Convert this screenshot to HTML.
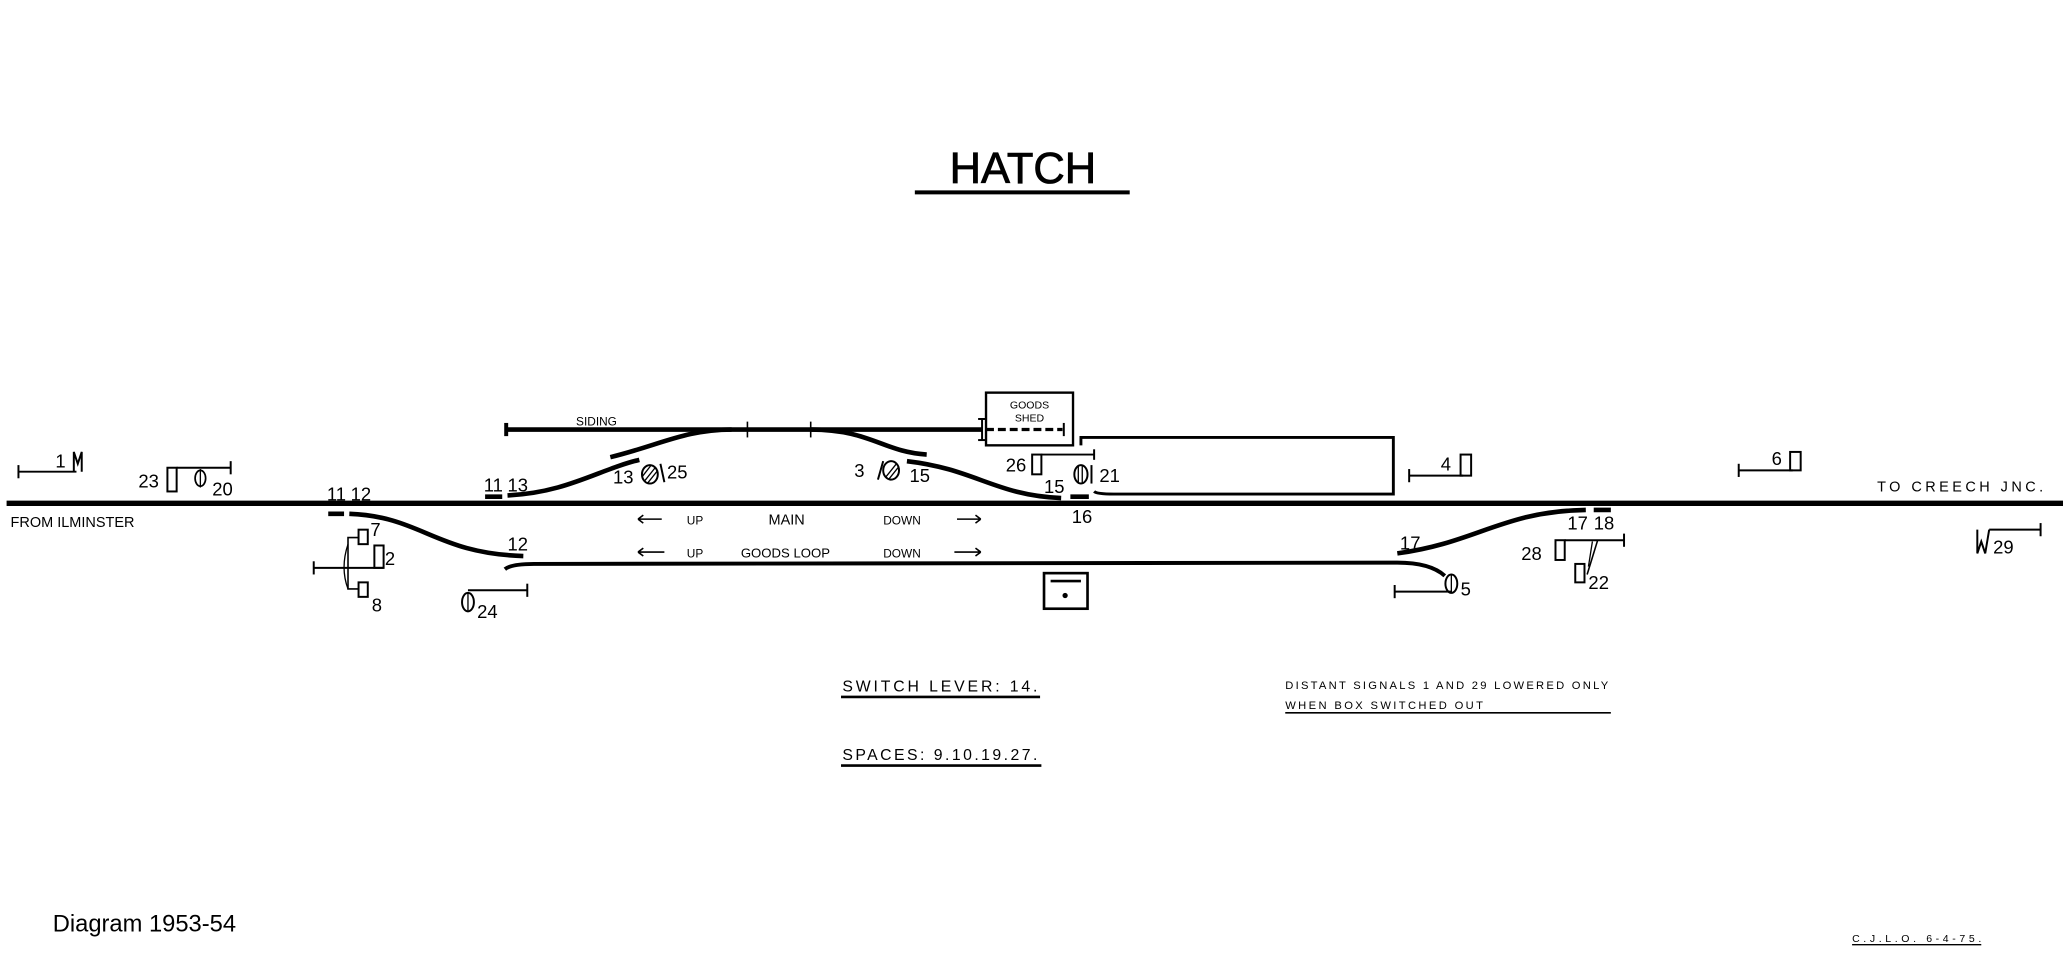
<!DOCTYPE html>
<html><head><meta charset="utf-8"><style>
html,body{margin:0;padding:0;background:#fff;}
svg{display:block;}
text{font-family:"Liberation Sans",sans-serif;fill:#000;}
</style></head><body>
<svg width="2063" height="975" viewBox="0 0 1565 740" preserveAspectRatio="none" xmlns="http://www.w3.org/2000/svg">
<rect width="1565" height="740" fill="#fff"/>
<g stroke="#000" fill="none" stroke-linecap="butt">
<line x1="694" y1="146" x2="857" y2="146" stroke-width="3"/>
<line x1="5" y1="382" x2="1565" y2="382" stroke-width="4"/>
<path d="M383,432 Q388,428 405,428 L1060,427 Q1085,427 1096,437" stroke-width="3"/>
<line x1="249" y1="390" x2="261" y2="390" stroke-width="3.5"/>
<path d="M265,390 C320,392 330,420 397,422" stroke-width="3.5"/>
<line x1="368" y1="377" x2="381" y2="377" stroke-width="3.5"/>
<path d="M385,376 C430,374 455,356 485,349" stroke-width="3.5"/>
<path d="M463,347 C500,338 520,326 555,326" stroke-width="3.5"/>
<line x1="383" y1="326" x2="745" y2="326" stroke-width="3.5"/>
<line x1="384" y1="321" x2="384" y2="331" stroke-width="3"/>
<line x1="567" y1="320" x2="567" y2="332" stroke-width="1.2"/>
<line x1="615" y1="320" x2="615" y2="332" stroke-width="1.2"/>
<path d="M615,326 C660,326 670,343 703,345" stroke-width="3.5"/>
<path d="M688,350 C740,356 755,376 805,378" stroke-width="3.5"/>
<line x1="812" y1="377" x2="826" y2="377" stroke-width="3.5"/>
<path d="M830,373 Q832,375 845,375 L1057,375 L1057,332 L820,332 L820,338" stroke-width="2.2"/>
<rect x="748" y="298" width="66" height="40" stroke-width="1.8"/>
<line x1="748" y1="326" x2="806" y2="326" stroke-width="2.5" stroke-dasharray="6,3"/>
<line x1="807" y1="321" x2="807" y2="331" stroke-width="1.5"/>
<line x1="745" y1="318" x2="745" y2="334" stroke-width="1.5"/>
<line x1="742" y1="318" x2="748" y2="318" stroke-width="1.5"/>
<line x1="742" y1="334" x2="748" y2="334" stroke-width="1.5"/>
<rect x="783" y="345" width="7" height="15" stroke-width="1.5"/>
<line x1="790" y1="345" x2="830" y2="345" stroke-width="1.5"/>
<line x1="830" y1="341" x2="830" y2="349" stroke-width="1.5"/>
<ellipse cx="820" cy="360" rx="5" ry="7" stroke-width="1.5"/>
<line x1="818" y1="354" x2="818" y2="366" stroke-width="1"/>
<line x1="821" y1="353" x2="821" y2="367" stroke-width="1"/>
<line x1="828" y1="353" x2="828" y2="367" stroke-width="1.5"/>
<line x1="1069" y1="361" x2="1110" y2="361" stroke-width="1.5"/>
<line x1="1069" y1="356" x2="1069" y2="366" stroke-width="1.5"/>
<rect x="1108" y="345" width="8" height="16" stroke-width="1.5"/>
<line x1="1319" y1="357" x2="1360" y2="357" stroke-width="1.5"/>
<line x1="1319" y1="352" x2="1319" y2="362" stroke-width="1.5"/>
<rect x="1358" y="343" width="8" height="14" stroke-width="1.5"/>
<line x1="14" y1="358" x2="58" y2="358" stroke-width="1.5"/>
<line x1="14" y1="353" x2="14" y2="363" stroke-width="1.5"/>
<path d="M56,358 L56,343 L59,352 L62,343 L62,358" stroke-width="1.5"/>
<rect x="127" y="355" width="7" height="18" stroke-width="1.5"/>
<line x1="134" y1="355" x2="175" y2="355" stroke-width="1.5"/>
<line x1="175" y1="350" x2="175" y2="360" stroke-width="1.5"/>
<ellipse cx="152" cy="363" rx="4" ry="6" stroke-width="1.3"/>
<line x1="152" y1="356" x2="152" y2="370" stroke-width="1"/>
<line x1="238" y1="431" x2="291" y2="431" stroke-width="1.5"/>
<line x1="238" y1="426" x2="238" y2="436" stroke-width="1.5"/>
<path d="M272,408 L264,408 L264,447 L272,447" stroke-width="1.2"/>
<path d="M264,413 Q258,431 264,447" stroke-width="1"/>
<rect x="272" y="402" width="7" height="11" stroke-width="1.5"/>
<rect x="284" y="414" width="7" height="17" stroke-width="1.5"/>
<rect x="272" y="442" width="7" height="11" stroke-width="1.5"/>
<ellipse cx="355" cy="457" rx="4.5" ry="7" stroke-width="1.5"/>
<line x1="355" y1="450" x2="355" y2="464" stroke-width="1"/>
<line x1="355" y1="448" x2="400" y2="448" stroke-width="1.5"/>
<line x1="400" y1="443" x2="400" y2="453" stroke-width="1.5"/>
<ellipse cx="493" cy="360" rx="6" ry="7" stroke-width="1.5"/>
<line x1="489" y1="365" x2="497" y2="355" stroke-width="1"/>
<line x1="491" y1="367" x2="499" y2="357" stroke-width="1"/>
<line x1="487" y1="362" x2="494" y2="353" stroke-width="1"/>
<line x1="501" y1="352" x2="504" y2="366" stroke-width="1.5"/>
<ellipse cx="676" cy="357" rx="6" ry="7" stroke-width="1.5"/>
<line x1="672" y1="362" x2="680" y2="352" stroke-width="1"/>
<line x1="674" y1="364" x2="682" y2="354" stroke-width="1"/>
<line x1="666" y1="364" x2="670" y2="350" stroke-width="1.5"/>
<path d="M484,394 L502,394 M484,394 l4,-3 M484,394 l4,3" stroke-width="1.2"/>
<path d="M726,394 L744,394 M744,394 l-4,-3 M744,394 l-4,3" stroke-width="1.2"/>
<path d="M484,419 L504,419 M484,419 l4,-3 M484,419 l4,3" stroke-width="1.2"/>
<path d="M724,419 L744,419 M744,419 l-4,-3 M744,419 l-4,3" stroke-width="1.2"/>
<rect x="792" y="435" width="33" height="27" stroke-width="2"/>
<line x1="797" y1="441" x2="820" y2="441" stroke-width="2"/>
<path d="M1060,420 C1120,412 1140,388 1203,387" stroke-width="3.5"/>
<line x1="1209" y1="387" x2="1222" y2="387" stroke-width="3.5"/>
<ellipse cx="1101" cy="443" rx="4.5" ry="7" stroke-width="1.5"/>
<line x1="1101" y1="436" x2="1101" y2="450" stroke-width="1"/>
<line x1="1058" y1="449" x2="1101" y2="449" stroke-width="1.5"/>
<line x1="1058" y1="444" x2="1058" y2="454" stroke-width="1.5"/>
<rect x="1180" y="410" width="7" height="15" stroke-width="1.5"/>
<line x1="1187" y1="410" x2="1232" y2="410" stroke-width="1.5"/>
<line x1="1232" y1="405" x2="1232" y2="415" stroke-width="1.5"/>
<rect x="1195" y="428" width="7" height="14" stroke-width="1.5"/>
<line x1="1212" y1="410" x2="1204" y2="436" stroke-width="1.2"/>
<line x1="1208" y1="411" x2="1205" y2="430" stroke-width="1"/>
<path d="M1500,402 L1500,420 L1503,411 L1506,420 L1509,402" stroke-width="1.5"/>
<line x1="1509" y1="402" x2="1548" y2="402" stroke-width="1.5"/>
<line x1="1548" y1="397" x2="1548" y2="407" stroke-width="1.5"/>
<line x1="638" y1="529" x2="789" y2="529" stroke-width="2"/>
<line x1="638" y1="581" x2="790" y2="581" stroke-width="2"/>
<line x1="975" y1="541" x2="1222" y2="541" stroke-width="1.2"/>
<line x1="1405" y1="717" x2="1503" y2="717" stroke-width="1"/>
</g>
<circle cx="808" cy="452" r="2" fill="#000"/>
<text x="776" y="139" font-size="33" text-anchor="middle" stroke="#000" stroke-width="0.6">HATCH</text>
<text x="437" y="323" font-size="9">SIDING</text>
<text x="781" y="310" font-size="8" text-anchor="middle">GOODS</text>
<text x="781" y="320" font-size="8" text-anchor="middle">SHED</text>
<g font-size="14">
<text x="42" y="355">1</text>
<text x="105" y="370">23</text>
<text x="161" y="376">20</text>
<text x="248" y="380">11</text>
<text x="266" y="380">12</text>
<text x="367" y="373">11</text>
<text x="385" y="373">13</text>
<text x="465" y="367">13</text>
<text x="506" y="363">25</text>
<text x="648" y="362">3</text>
<text x="690" y="366">15</text>
<text x="763" y="358">26</text>
<text x="834" y="366">21</text>
<text x="792" y="374">15</text>
<text x="813" y="397">16</text>
<text x="1093" y="357">4</text>
<text x="1344" y="353">6</text>
<text x="281" y="407">7</text>
<text x="292" y="429">2</text>
<text x="282" y="464">8</text>
<text x="385" y="418">12</text>
<text x="362" y="469">24</text>
<text x="1062" y="417">17</text>
<text x="1189" y="402">17</text>
<text x="1209" y="402">18</text>
<text x="1154" y="425">28</text>
<text x="1205" y="447">22</text>
<text x="1108" y="452">5</text>
<text x="1512" y="420">29</text>
</g>
<text x="8" y="400" font-size="11">FROM ILMINSTER</text>
<text x="1424" y="373" font-size="11" textLength="126">TO CREECH JNC.</text>
<text x="521" y="398" font-size="9">UP</text>
<text x="583" y="398" font-size="11">MAIN</text>
<text x="670" y="398" font-size="9">DOWN</text>
<text x="521" y="423" font-size="9">UP</text>
<text x="562" y="423" font-size="10">GOODS LOOP</text>
<text x="670" y="423" font-size="9">DOWN</text>
<text x="639" y="525" font-size="12" textLength="148">SWITCH LEVER: 14.</text>
<text x="639" y="577" font-size="12" textLength="148">SPACES: 9.10.19.27.</text>
<text x="975" y="523" font-size="8.5" textLength="245">DISTANT SIGNALS 1 AND 29 LOWERED ONLY</text>
<text x="975" y="538" font-size="8.5" textLength="150">WHEN BOX SWITCHED OUT</text>
<text x="40" y="707" font-size="18">Diagram 1953-54</text>
<text x="1405" y="715" font-size="8" textLength="98">C.J.L.O. 6-4-75.</text>
</svg>
</body></html>
